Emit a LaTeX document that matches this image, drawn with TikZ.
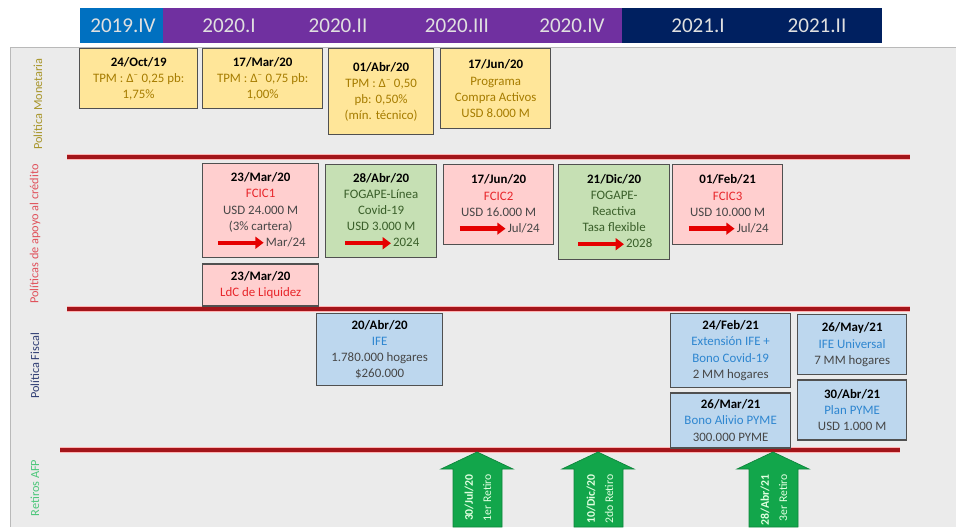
\documentclass[tikz,border=0pt]{standalone}
\usepackage{fontspec}
\setmainfont{Carlito}
\usetikzlibrary{positioning, arrows.meta}

\definecolor{azul19}{HTML}{0070C0}
\definecolor{morado20}{HTML}{7030A0}
\definecolor{marino21}{HTML}{002060}
\definecolor{fondo}{HTML}{EBEBEB}
\definecolor{amarillo}{HTML}{FFE699}
\definecolor{rosado}{HTML}{FFCFCF}
\definecolor{verdeclaro}{HTML}{C6E0B4}
\definecolor{celeste}{HTML}{BDD7EE}
\definecolor{borde}{HTML}{505050}
\definecolor{dorado}{HTML}{A67C00}
\definecolor{rojofcic}{HTML}{E8262B}
\definecolor{grisoscuro}{HTML}{474747}
\definecolor{verdeosc}{HTML}{3A5F2A}
\definecolor{azulfiscal}{HTML}{2E86D0}
\definecolor{rojolinea}{HTML}{A3151A}
\definecolor{verderetiro}{HTML}{12A64B}
\definecolor{ejemon}{HTML}{A8952A}
\definecolor{ejecred}{HTML}{E0505A}
\definecolor{ejefis}{HTML}{2F3D73}
\definecolor{ejeafp}{HTML}{4CC77A}

\tikzset{evento/.style = {draw=borde, line width=1.1pt, anchor=north west, align=center, inner sep=2pt, font=\fontsize{11}{13.8}\selectfont}}
\tikzset{monetaria/.style = {evento, fill=amarillo, text=dorado}}
\tikzset{credito/.style = {evento, fill=rosado, text=grisoscuro}}
\tikzset{fogape/.style = {evento, fill=verdeclaro, text=verdeosc}}
\tikzset{fiscal/.style = {evento, fill=celeste, text=grisoscuro}}
\tikzset{trimestre/.style = {text=white!88!black, font=\fontsize{18}{20}\selectfont}}
\tikzset{eje/.style = {rotate=90, font=\fontsize{10.5}{12}\selectfont}}
\tikzset{separador/.style = {rojolinea, line width=2.6pt, preaction={draw=red!30, line width=4.6pt}}}
\tikzset{retiro/.style = {fill=verderetiro, draw=verderetiro!80!black, line width=0.6pt}}
\tikzset{retirotxt/.style = {rotate=90, anchor=east, align=right, inner sep=1pt, text=green!12!white, font=\fontsize{10}{15.5}\selectfont}}

\newcommand{\fecha}[1]{\textcolor{black}{\textbf{#1}}}
\newcommand{\plazo}{\tikz[baseline=-0.6ex]\draw[red!90!black, line width=3.8pt, -{Triangle[length=7pt, width=10pt]}] (0pt,0pt) -- (39pt,0pt);}

\begin{document}
\begin{tikzpicture}[x=0.03cm, y=-0.03cm]
	\useasboundingbox (0,0) rectangle (956,527);
	% Fondo
	\fill[fondo] (10,47) rectangle (956,527);
	\draw[gray!55, line width=0.8pt] (956,47) -- (10,47) -- (10,527);

	% Trimestres
	\fill[azul19] (80,8) rectangle (163,43);
	\fill[morado20] (163,8) rectangle (622,43);
	\fill[marino21] (622,8) rectangle (882,43);
	\node[trimestre] (t19iv) at (123,25.5) {2019.IV};
	\node[trimestre] (t20i) at (229,25.5) {2020.I};
	\node[trimestre] (t20ii) at (338,25.5) {2020.II};
	\node[trimestre] (t20iii) at (457,25.5) {2020.III};
	\node[trimestre] (t20iv) at (572,25.5) {2020.IV};
	\node[trimestre] (t21i) at (698,25.5) {2021.I};
	\node[trimestre] (t21ii) at (817,25.5) {2021.II};

	% Ejes
	\node[eje, text=ejemon] (ejemon) at (38,104) {Política Monetaria};
	\node[eje, text=ejecred] (ejecred) at (35,234) {Políticas de apoyo al crédito};
	\node[eje, text=ejefis] (ejefis) at (35,366) {Política Fiscal};
	\node[eje, text=ejeafp] (ejeafp) at (35,488) {Retiros AFP};

	% Separadores
	\draw[separador] (67,157) -- (910,157);
	\draw[separador] (67,309) -- (910,309);
	\draw[separador] (60,450) -- (900,450);

	% Politica monetaria
	\node[monetaria, minimum width=3.54cm, minimum height=1.80cm] (tpm1) at (79,48) {\fecha{24/Oct/19}\\TPM : Δ\textsuperscript{–} 0,25 pb:\\1,75\%};
	\node[monetaria, minimum width=3.60cm, minimum height=1.80cm] (tpm2) at (202,48) {\fecha{17/Mar/20}\\TPM : Δ\textsuperscript{–} 0,75 pb:\\1,00\%};
	\node[monetaria, minimum width=3.15cm, minimum height=2.58cm] (tpm3) at (328,48) {\fecha{01/Abr/20}\\TPM : Δ\textsuperscript{–} 0,50\\pb: 0,50\%\\(mín. técnico)};
	\node[monetaria, minimum width=3.30cm, minimum height=2.40cm] (compra) at (440,48) {\fecha{17/Jun/20}\\Programa\\Compra Activos\\USD 8.000 M};

	% Apoyo al credito
	\node[credito, minimum width=3.48cm, minimum height=2.82cm] (fcic1) at (202,163) {\fecha{23/Mar/20}\\\textcolor{rojofcic}{FCIC1}\\USD 24.000 M\\(3\% cartera)\\\plazo Mar/24};
	\node[credito, minimum width=3.48cm, minimum height=1.26cm, below=0.15cm of fcic1] (ldc) {\fecha{23/Mar/20}\\\textcolor{rojofcic}{LdC de Liquidez}};
	\node[fogape, minimum width=3.33cm, minimum height=2.79cm] (fogape1) at (325,164) {\fecha{28/Abr/20}\\FOGAPE-Línea\\Covid-19\\USD 3.000 M\\\plazo2024};
	\node[credito, minimum width=3.30cm, minimum height=2.40cm] (fcic2) at (443,164) {\fecha{17/Jun/20}\\\textcolor{rojofcic}{FCIC2}\\USD 16.000 M\\\plazo Jul/24};
	\node[fogape, minimum width=3.33cm, minimum height=2.85cm] (fogape2) at (558,164) {\fecha{21/Dic/20}\\FOGAPE-\\Reactiva\\Tasa flexible\\\plazo2028};
	\node[credito, minimum width=3.30cm, minimum height=2.40cm] (fcic3) at (672,164) {\fecha{01/Feb/21}\\\textcolor{rojofcic}{FCIC3}\\USD 10.000 M\\\plazo Jul/24};

	% Politica fiscal
	\node[fiscal, minimum width=3.78cm, minimum height=2.16cm] (ife) at (316,313) {\fecha{20/Abr/20}\\\textcolor{azulfiscal}{IFE}\\1.780.000 hogares\\\$260.000};
	\node[fiscal, minimum width=3.60cm, minimum height=2.22cm] (extension) at (670,313) {\fecha{24/Feb/21}\\\textcolor{azulfiscal}{Extensión IFE +}\\\textcolor{azulfiscal}{Bono Covid-19}\\2 MM hogares};
	\node[fiscal, minimum width=3.60cm, minimum height=1.65cm, below=0.12cm of extension] (alivio) {\fecha{26/Mar/21}\\\textcolor{azulfiscal}{Bono Alivio PYME}\\300.000 PYME};
	\node[fiscal, minimum width=3.27cm, minimum height=1.80cm] (universal) at (797,314) {\fecha{26/May/21}\\\textcolor{azulfiscal}{IFE Universal}\\7 MM hogares};
	\node[fiscal, minimum width=3.27cm, minimum height=1.80cm, below=0.12cm of universal] (pyme) {\fecha{30/Abr/21}\\\textcolor{azulfiscal}{Plan PYME}\\USD 1.000 M};

	% Retiros AFP
	\filldraw[retiro] (477,452) -- (513,469) -- (502,469) -- (502,527) -- (453,527) -- (453,469) -- (441,469) -- cycle;
	\filldraw[retiro] (598,452) -- (634,469) -- (623,469) -- (623,527) -- (574,527) -- (574,469) -- (562,469) -- cycle;
	\filldraw[retiro] (773,452) -- (809,469) -- (798,469) -- (798,527) -- (749,527) -- (749,469) -- (737,469) -- cycle;
	\node[retirotxt] (retiro1) at (478,473) {\textbf{30/Jul/20}\\1er Retiro};
	\node[retirotxt] (retiro2) at (600,473) {\textbf{10/Dic/20}\\2do Retiro};
	\node[retirotxt] (retiro3) at (774,473) {\textbf{28/Abr/21}\\3er Retiro};
\end{tikzpicture}
\end{document}
